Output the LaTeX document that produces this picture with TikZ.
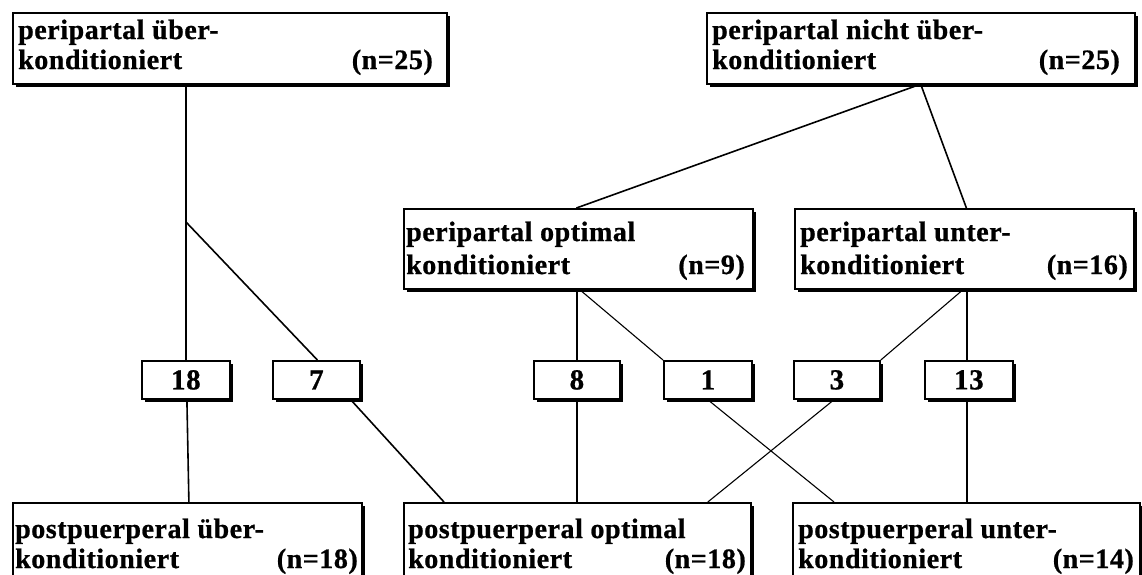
\documentclass[tikz,border=0pt]{standalone}
\usepackage{fontspec}
\setmainfont{Liberation Serif}[LetterSpace=2, BoldFeatures={FakeBold=0.8}]
\usetikzlibrary{shadows,calc}
\tikzset{
  bigbox/.style={draw=black, line width=1.8pt, fill=white, inner sep=0pt,
    drop shadow={shadow xshift=2.6pt, shadow yshift=-2.6pt, fill=black, opacity=1}},
  numbox/.style={bigbox, font=\fontsize{29}{32}\selectfont\bfseries},
  lbl/.style={inner sep=0pt, font=\fontsize{28}{32}\selectfont\bfseries},
  conn/.style={line width=1.6pt},
  thin/.style={line width=1.1pt}
}
\begin{document}
\begin{tikzpicture}[x=1pt,y=-1pt]
\useasboundingbox (0,0) rectangle (1142,574);
\clip (0,0) rectangle (1142,574);
% big boxes
\node[bigbox, anchor=north west, minimum width=434pt, minimum height=71pt] (A) at (12,12) {};
\node[bigbox, anchor=north west, minimum width=428pt, minimum height=71pt] (B) at (706,12) {};
\node[bigbox, anchor=north west, minimum width=349pt, minimum height=80pt] (C) at (403,208) {};
\node[bigbox, anchor=north west, minimum width=339pt, minimum height=80pt] (D) at (794,208) {};
\node[bigbox, anchor=north west, minimum width=349pt, minimum height=100pt] (E) at (12,502) {};
\node[bigbox, anchor=north west, minimum width=347pt, minimum height=100pt] (F) at (403,502) {};
\node[bigbox, anchor=north west, minimum width=347pt, minimum height=100pt] (G) at (792,502) {};
% labels
\node[lbl, anchor=base west] (A1) at (18,39) {peripartal über-};
\node[lbl, anchor=base west] (A2) at (18,69) {konditioniert};
\node[lbl, anchor=base east] (An) at (433,69) {(n=25)};
\node[lbl, anchor=base west] (B1) at (712,39) {peripartal nicht über-};
\node[lbl, anchor=base west] (B2) at (712,69) {konditioniert};
\node[lbl, anchor=base east] (Bn) at (1120,69) {(n=25)};
\node[lbl, anchor=base west] (C1) at (406,241) {peripartal optimal};
\node[lbl, anchor=base west] (C2) at (406,274) {konditioniert};
\node[lbl, anchor=base east] (Cn) at (745,274) {(n=9)};
\node[lbl, anchor=base west] (D1) at (800,241) {peripartal unter-};
\node[lbl, anchor=base west] (D2) at (800,274) {konditioniert};
\node[lbl, anchor=base east] (Dn) at (1128,274) {(n=16)};
\node[lbl, anchor=base west] (E1) at (15,538) {postpuerperal über-};
\node[lbl, anchor=base west] (E2) at (15,568) {konditioniert};
\node[lbl, anchor=base east] (En) at (358,568) {(n=18)};
\node[lbl, anchor=base west] (F1) at (408,538) {postpuerperal optimal};
\node[lbl, anchor=base west] (F2) at (408,568) {konditioniert};
\node[lbl, anchor=base east] (Fn) at (746,568) {(n=18)};
\node[lbl, anchor=base west] (G1) at (798,538) {postpuerperal unter-};
\node[lbl, anchor=base west] (G2) at (798,568) {konditioniert};
\node[lbl, anchor=base east] (Gn) at (1134,568) {(n=14)};
% number boxes
\node[numbox, anchor=north west, minimum width=88pt, minimum height=38pt] (n18) at (141,360) {18};
\node[numbox, anchor=north west, minimum width=87pt, minimum height=38pt] (n7) at (272,360) {7};
\node[numbox, anchor=north west, minimum width=86pt, minimum height=38pt] (n8) at (533,360) {8};
\node[numbox, anchor=north west, minimum width=88pt, minimum height=38pt] (n1) at (663,360) {1};
\node[numbox, anchor=north west, minimum width=86pt, minimum height=38pt] (n3) at (793,360) {3};
\node[numbox, anchor=north west, minimum width=88pt, minimum height=38pt] (n13) at (924,360) {13};
% connectors
\coordinate (J) at (186,222);
\draw[conn] (J |- A.south) -- (J) -- (J |- n18.north);
\draw[conn] (J) -- ([xshift=1pt]n7.north);
\draw[conn] ([xshift=1pt]n18.south) -- ([xshift=3pt]n18.south |- E.north);
\draw[conn] ([xshift=-10pt]n7.south east) -- ([xshift=41pt]F.north west);
\draw[conn] ([xshift=-2pt]B.south) -- ([xshift=-2pt]C.north);
\draw[conn] (B.south) -- ([xshift=2pt]D.north);
\draw[conn] (n8.north |- C.south) -- (n8.north);
\draw[thin] ([xshift=3pt]n8.north |- C.south) -- (n1.north west);
\draw[conn] ([xshift=-2pt]n13.north |- D.south) -- ([xshift=-2pt]n13.north);
\draw[thin] ([xshift=-6pt]n13.north |- D.south) -- (n3.north east);
\draw[conn] (n8.south) -- (n8.south |- F.north);
\draw[thin] (n1.south) -- ([xshift=42pt]G.north west);
\draw[thin] ([xshift=-3pt]n3.south) -- ([xshift=-44pt]F.north east);
\draw[conn] ([xshift=-2pt]n13.south) -- ([xshift=-2pt]n13.south |- G.north);
\end{tikzpicture}
\end{document}
